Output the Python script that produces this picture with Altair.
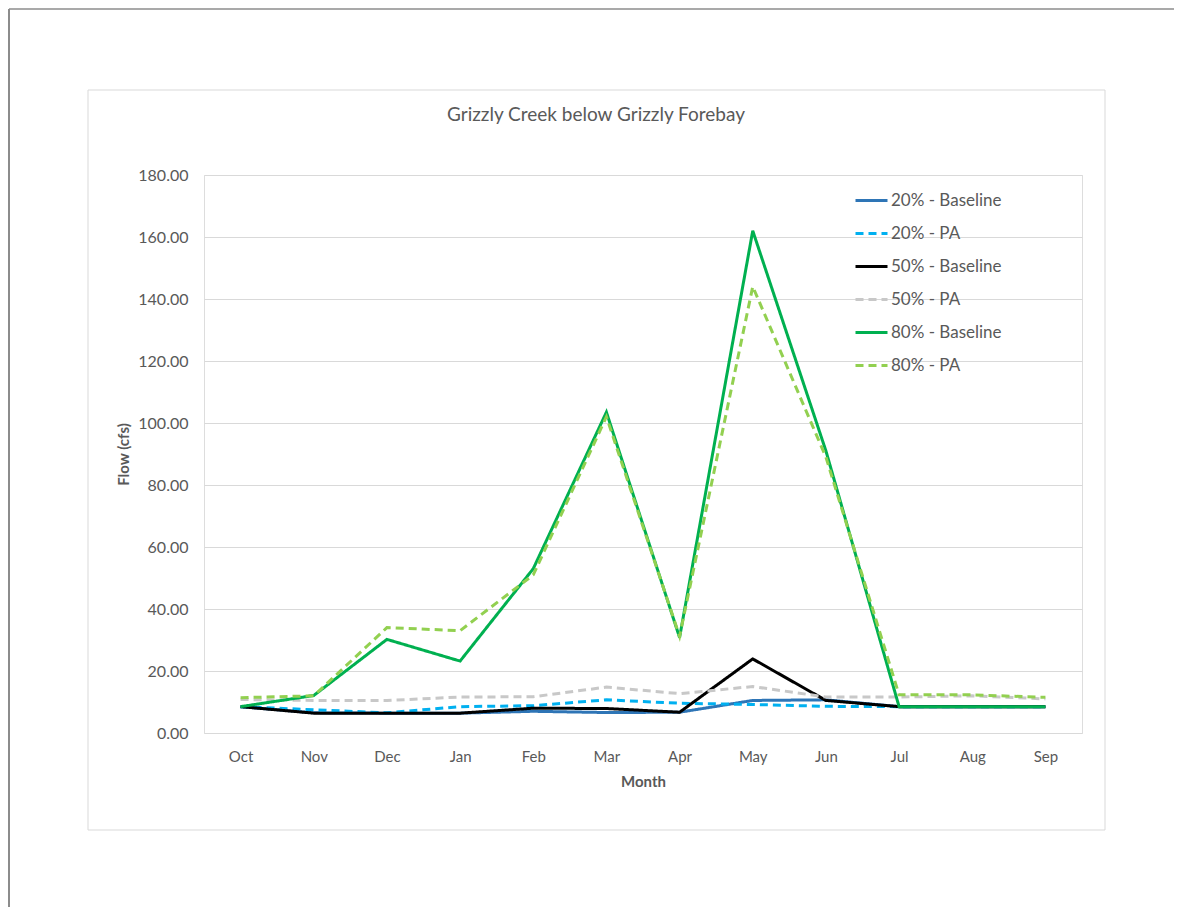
import altair as alt
import pandas as pd

months = ["Oct", "Nov", "Dec", "Jan", "Feb", "Mar", "Apr", "May", "Jun", "Jul", "Aug", "Sep"]
series_names = ["20% - Baseline", "20% - PA", "50% - Baseline", "50% - PA", "80% - Baseline", "80% - PA"]
b20 = [8.5, 6.5, 6.4, 6.4, 7.0, 6.6, 6.7, 10.5, 10.7, 8.5, 8.5, 8.5]
pa20 = [8.5, 7.5, 6.5, 8.5, 8.8, 10.7, 9.6, 9.2, 8.6, 8.5, 8.5, 8.5]
b50 = [8.5, 6.4, 6.4, 6.4, 8.0, 7.9, 6.7, 23.9, 10.5, 8.5, 8.5, 8.5]
pa50 = [10.8, 10.5, 10.5, 11.6, 11.7, 14.8, 12.7, 15.0, 11.6, 11.6, 12.0, 11.0]
b80 = [8.5, 12.1, 30.2, 23.2, 53.0, 103.5, 30.8, 162.0, 91.0, 8.5, 8.5, 8.5]
pa80 = [11.4, 12.0, 34.0, 33.0, 51.0, 102.0, 31.2, 144.0, 89.0, 12.3, 12.3, 11.5]
title_text = "Grizzly Creek below Grizzly Forebay"

colors = ["#2E75B6", "#00B0F0", "#000000", "#C8C8C8", "#00B050", "#92D050"]
dashes = [[1, 0], [8, 5], [1, 0], [8, 5], [1, 0], [8, 5]]

values = [b20, pa20, b50, pa50, b80, pa80]
rows = []
for si, (name, vals) in enumerate(zip(series_names, values)):
    for m, v in zip(months, vals):
        rows.append({"Month": m, "Flow": v, "Series": name, "order": si})
df = pd.DataFrame(rows)

FONT = "Lato"
GRAY = "#595959"

W, H = 878, 558

lines = alt.Chart(df).mark_line(strokeWidth=3).encode(
    x=alt.X("Month:N", sort=months, scale=alt.Scale(type="point", padding=0.5),
            axis=alt.Axis(title="Month", labelAngle=0, ticks=False, domain=False, grid=False,
                          labelPadding=16, titlePadding=10, labelFontSize=15, titleFontSize=15,
                          labelColor=GRAY, titleColor=GRAY, labelFont=FONT, titleFont=FONT,
                          titleFontWeight="bold")),
    y=alt.Y("Flow:Q", scale=alt.Scale(domain=[0, 180], nice=False),
            axis=alt.Axis(title="Flow (cfs)", values=list(range(0, 181, 20)), format=".2f",
                          ticks=False, domain=False, grid=True, gridColor="#D9D9D9",
                          labelPadding=16, titlePadding=6, labelFontSize=16, titleFontSize=15,
                          labelColor=GRAY, titleColor=GRAY, labelFont=FONT, titleFont=FONT,
                          titleFontWeight="bold")),
    color=alt.Color("Series:N", sort=series_names,
                    scale=alt.Scale(domain=series_names, range=colors),
                    legend=alt.Legend(title=None, orient="none", legendX=650, legendY=8,
                                      symbolType="stroke", symbolSize=1024, symbolStrokeWidth=3,
                                      labelFontSize=17, labelColor=GRAY, labelFont=FONT,
                                      rowPadding=7, labelOffset=2)),
    strokeDash=alt.StrokeDash("Series:N", sort=series_names,
                              scale=alt.Scale(domain=series_names, range=dashes)),
    order="order:Q",
    detail="Series:N",
)

one = pd.DataFrame({"t": [title_text]})
frame = alt.Chart(one).mark_rect(fill=None, stroke="#D9D9D9", strokeWidth=1).encode(
    x=alt.value(-116), x2=alt.value(901), y=alt.value(-85), y2=alt.value(655)
)
page_left = alt.Chart(one).mark_rule(color="#8C8C8C", strokeWidth=2).encode(
    x=alt.value(-195), y=alt.value(-166), y2=alt.value(740)
)
page_top = alt.Chart(one).mark_rule(color="#8C8C8C", strokeWidth=1.5).encode(
    x=alt.value(-195), x2=alt.value(970), y=alt.value(-166)
)
title = alt.Chart(one).mark_text(font=FONT, fontSize=19, color=GRAY, align="center",
                                 baseline="middle").encode(
    text="t:N", x=alt.value(392), y=alt.value(-60)
)

chart = alt.layer(frame, page_left, page_top, title, lines).properties(
    width=W, height=H,
    autosize=alt.AutoSizeParams(type="none"),
    padding={"left": 196, "top": 167, "right": 93, "bottom": 174},
).configure_view(stroke=None).configure(background="white")

chart.save("out.html", embed_options={"renderer": "svg", "actions": False})
